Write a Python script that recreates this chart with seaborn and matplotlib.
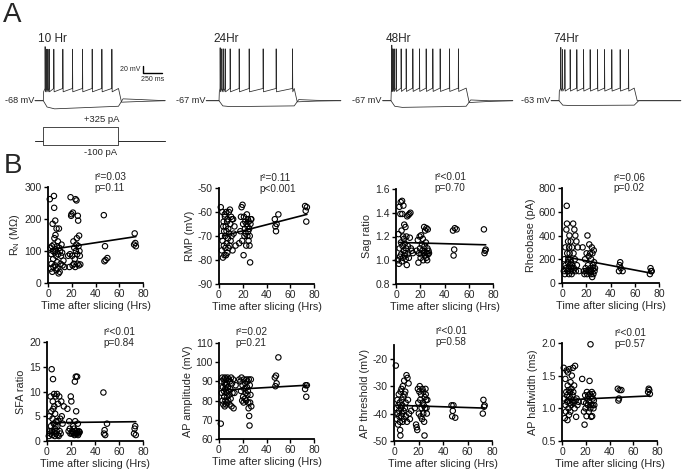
#%%
# time-after-slicing figure: A = example traces, B = property vs. time scatter
import numpy as np
import pandas as pd
import seaborn as sns
import matplotlib
matplotlib.use('Agg')
import matplotlib.pyplot as plt

#%%
# panel B data: one value per cell, same cells in every panel
hours = [1.5, 2.0, 2.4, 2.8, 3.0, 3.3, 3.6, 3.9, 4.1, 4.3, 4.6, 4.8, 5.0, 5.2, 5.4, 5.7, 5.9,
         6.1, 6.3, 6.5, 6.8, 7.0, 7.2, 7.5, 7.8, 8.0, 8.3, 8.6, 8.9, 9.2, 9.5, 9.8, 10.2, 10.6,
         11.0, 11.4, 11.9, 12.3, 13.0, 14.0,
         17.0, 18.0, 18.5, 19.0, 19.5, 19.8, 20.3, 20.7, 21.0, 21.4, 21.8, 22.1, 22.5, 22.9,
         23.2, 23.5, 23.9, 24.0, 24.3, 24.6, 24.9, 25.1, 25.4, 25.7, 25.9, 26.2, 26.5, 26.8, 27.2,
         47.0, 47.5, 48.0, 48.5, 50.0, 72.5, 73.0, 73.5, 74.0]

rn = [262, 110, 45, 90, 60, 115, 35, 185, 100, 75, 50, 120, 272, 235, 140, 95, 55,
      195, 150, 105, 85, 40, 170, 115, 65, 45, 130, 90, 30, 170, 110, 35, 100, 60,
      85, 120, 95, 55, 70, 50,
      85, 50, 90, 268, 210, 215, 85, 55, 220, 130, 60, 110, 75, 50,
      262, 100, 120, 258, 140, 90, 60, 210, 195, 115, 55, 148, 100, 85, 58,
      212, 68, 115, 72, 78, 120, 155, 125, 115]

rmp = [-58, -70, -76, -60, -72, -79, -66, -64, -74, -68, -78, -61, -62, -70, -75, -66, -78,
       -60, -68, -73, -64, -77, -63, -71, -67, -75, -60, -69, -74, -59, -65, -72, -62, -70,
       -63, -76, -63, -69, -66, -74,
       -73, -68, -62, -58, -72, -57, -65, -78, -62, -70, -67, -64, -69, -74,
       -65, -61, -70, -66, -63, -68, -72, -64, -67, -74, -70, -81, -65, -63, -63,
       -63, -66, -68, -65, -61, -57.5, -59.5, -64, -58]

sag = [1.00, 1.22, 0.97, 1.45, 1.10, 1.03, 1.39, 1.49, 1.15, 1.05, 1.25, 0.99, 1.50, 1.39, 1.12, 1.02, 1.20,
       1.46, 1.08, 1.18, 1.30, 1.04, 1.14, 1.06, 1.28, 1.01, 1.10, 1.20, 0.96, 1.37, 1.05, 1.12, 1.38, 1.02,
       1.39, 1.19, 1.40, 1.10, 1.08, 1.06,
       1.08, 1.17, 0.98, 1.06, 1.20, 1.10, 1.02, 1.21, 1.05, 1.13, 1.08, 1.18, 1.00, 1.06,
       1.28, 1.12, 1.04, 1.25, 1.07, 1.15, 1.02, 1.27, 1.06, 1.00, 1.10, 1.26, 1.05, 1.08, 1.06,
       1.25, 1.04, 1.09, 1.27, 1.26, 1.26, 1.06, 1.08, 1.09]

rheobase = [100, 200, 75, 300, 150, 125, 450, 650, 500, 250, 100, 175, 350, 200, 125, 75, 300,
            400, 250, 150, 100, 200, 350, 175, 125, 75, 300, 150, 100, 500, 250, 125, 450, 200,
            400, 100, 350, 150, 300, 100,
            300, 100, 75, 200, 125, 100, 250, 75, 400, 150, 100, 225, 325, 100,
            250, 125, 75, 200, 100, 300, 50, 250, 150, 125, 75, 275, 175, 100, 125,
            100, 150, 175, 125, 100, 75, 125, 100, 100]

sfa = [1.0, 5.0, 2.0, 1.5, 9.0, 3.0, 6.0, 14.5, 2.0, 1.2, 4.5, 8.0, 12.5, 6.5, 1.8, 3.5, 9.5,
       7.0, 2.5, 1.0, 5.5, 3.0, 9.0, 1.5, 4.0, 2.0, 9.5, 3.0, 1.2, 7.5, 4.0, 1.0, 9.0, 2.0,
       4.5, 1.5, 8.0, 5.0, 3.5, 7.0,
       6.5, 2.0, 4.0, 2.5, 1.5, 9.0, 8.0, 1.5, 2.0, 1.8, 3.0, 1.5, 2.5, 1.2,
       12.0, 4.0, 1.5, 13.0, 6.0, 2.0, 1.5, 13.0, 1.8, 3.5, 1.2, 1.5, 2.0, 1.8, 1.8,
       9.8, 1.5, 2.2, 1.2, 3.5, 1.5, 2.5, 3.0, 1.2]

ap_amp = [68, 90, 84, 92, 80, 87, 78, 91, 85, 82, 89, 77, 92, 86, 80, 88, 78,
          91, 84, 79, 89, 82, 92, 87, 80, 85, 91, 83, 78, 90, 86, 81, 92, 77,
          89, 84, 91, 76, 84, 88,
          91, 90, 85, 92, 80, 88, 82, 79, 91, 86, 81, 89, 84, 80,
          91, 87, 83, 90, 85, 79, 76, 91, 72, 67, 88, 79, 83, 91, 77,
          92, 87.5, 93, 89, 102.5, 86, 88, 82, 88]

ap_thr = [-22.5, -38, -42, -35, -40, -44, -37, -33, -39, -41, -36, -43, -46, -48, -32, -38, -41,
          -31, -35, -40, -37, -43, -30, -34, -39, -42, -28, -33, -38, -32, -36, -41, -26, -43,
          -27, -35, -29, -40, -42, -39,
          -38, -44, -45, -46, -31, -36, -40, -32, -30, -35, -41, -33, -38, -42,
          -31, -36, -40, -32, -37, -43, -48, -34, -38, -31, -33, -35, -38, -40, -35,
          -37, -41, -39, -37, -41.5, -40, -35, -37.5, -37]

ap_hw = [1.62, 1.15, 0.85, 1.45, 1.05, 0.95, 1.25, 1.58, 1.20, 1.10, 0.82, 1.35, 1.55, 1.12, 1.00, 1.28, 0.90,
         1.60, 1.18, 1.08, 1.25, 0.95, 1.40, 1.15, 1.05, 1.30, 1.50, 1.10, 1.20, 1.62, 1.25, 1.08, 1.35, 1.00,
         1.65, 1.12, 0.87, 1.15, 1.05, 1.10,
         1.45, 1.10, 0.95, 0.75, 1.20, 1.00, 1.08, 0.88, 1.25, 1.15, 1.05, 1.20, 0.95, 1.10,
         1.42, 1.22, 1.00, 1.98, 1.05, 0.87, 1.18, 1.25, 0.88, 1.05, 1.15, 1.22, 1.00, 1.12, 1.05,
         1.30, 1.12, 1.15, 1.28, 1.28, 1.25, 1.30, 1.28, 1.22]

# regression lines
fit_x = [3, 74]
fit_rn = [105, 145]
fit_rmp = [-70, -61]
fit_sag = [1.15, 1.13]
fit_rheobase = [220, 82]
fit_sfa = [3.7, 3.9]
fit_ap_amp = [85.5, 88]
fit_ap_thr = [-37, -38]
fit_ap_hw = [1.13, 1.19]

stats_r2 = ['r²=0.03', 'r²=0.11', 'r²<0.01', 'r²=0.06', 'r²<0.01', 'r²=0.02', 'r²<0.01', 'r²<0.01']
stats_p = ['p=0.11', 'p<0.001', 'p=0.70', 'p=0.02', 'p=0.84', 'p=0.21', 'p=0.58', 'p=0.57']

ylabels = ['R$_\\mathregular{N}$ (MΩ)', 'RMP (mV)', 'Sag ratio', 'Rheobase (pA)',
           'SFA ratio', 'AP amplitude (mV)', 'AP threshold (mV)', 'AP halfwidth (ms)']

#%%
# panel A data: example traces (ms from step onset, mV from rest)
trace_labels = ['10 Hr', '24Hr', '48Hr', '74Hr']
rest_mv = [-68, -67, -67, -63]
spike_times = [
    [22, 40, 58, 76, 138, 258, 386, 519, 648, 777, 910],
    [13, 36, 58, 80, 146, 266, 399, 585, 758, 975],
    [9, 23, 40, 67, 133, 200, 289, 377, 466, 555, 652, 776, 895],
    [22, 44, 76, 146, 235, 324, 412, 510, 603, 700, 811, 922],
]
first_peak = [146, 143, 150, 144]
spike_peak = [139, 140, 140, 138]
ahp_level = [24, 24, 25, 26]
prespike_level = [33, 33, 34, 34]
depol_post_t = [1040, 1300, 1620]
depol_post_v = [[-4, -2, 0], [-3, -1, 0], [-5, -2, 0], [0, 0, 0]]
hyper_t = [0, 50, 150, 1000, 1060, 1300, 1620]
hyper_v = [[0, -17, -22, -15, 5, 3, 0],
           [0, -14, -16, -14, 3, 1, 0],
           [0, -15, -18, -15, 2, 0, 0],
           [0, -12, -13, -12, 0, 0, 0]]
trace_start = [-110, -170, -110, -105]
step_ms = 1000
step_t = [-110, 0, 0, 1000, 1000, 1620]
step_pos = [0, 0, 325, 325, 0, 0]
step_neg = [0, 0, -100, -100, 0, 0]

# layout of panel A (ms along the shared time axis)
trace_onset = [576, 2913, 5200, 7435]
scalebar_ms = 250
scalebar_mv = 20

#%%
sns.set_style('ticks')
plt.rcParams['font.family'] = ['Liberation Sans', 'DejaVu Sans']
plt.rcParams['axes.unicode_minus'] = False
plt.rcParams['mathtext.fontset'] = 'custom'
plt.rcParams['mathtext.rm'] = 'Liberation Sans'

W, H = 685, 474
fig = plt.figure(figsize=(W / 100, H / 100), dpi=100)


def px_axes(x0, y0, x1, y1):
    return fig.add_axes([x0 / W, 1 - y1 / H, (x1 - x0) / W, (y1 - y0) / H])


# ---- panel A ----
trace_col = '#2a2a2a'
ax_v = px_axes(0, 30, 685, 115)
ax_v.set_xlim(0, 685 * 13.3)
ax_v.set_ylim(-38.6, 190.9)
ax_v.axis('off')

for i in range(4):
    on = trace_onset[i]
    t = [trace_start[i], 0, 4]
    v = [0, 0, ahp_level[i]]
    for k, ts in enumerate(spike_times[i]):
        t += [ts, ts + 2, ts + 6]
        v += [prespike_level[i], first_peak[i] if k == 0 else spike_peak[i], ahp_level[i]]
    t += [step_ms] + depol_post_t
    v += [prespike_level[i]] + depol_post_v[i]
    ax_v.plot(np.array(t) + on, v, color=trace_col, lw=0.55)
    ax_v.plot(np.array([trace_start[i]] + hyper_t) + on, [0] + hyper_v[i], color=trace_col, lw=0.55)
    ax_v.text(on + trace_start[i] - 15, 0, f'{rest_mv[i]} mV', ha='right', va='center', fontsize=6.6)
    ax_v.text(on - 70, 167, trace_labels[i], ha='left', va='center', fontsize=8.5)

# scale bar
sb_x, sb_y = trace_onset[0] + 1326, 74
ax_v.plot([sb_x, sb_x, sb_x + scalebar_ms], [sb_y + scalebar_mv, sb_y, sb_y], color='black', lw=1.0)
ax_v.text(sb_x - 40, sb_y + 9, f'{scalebar_mv} mV', ha='right', va='center', fontsize=5)
ax_v.text(sb_x + scalebar_ms / 2, sb_y - 16, f'{scalebar_ms} ms', ha='center', va='center', fontsize=5)

ax_i = px_axes(0, 115, 685, 160)
ax_i.set_xlim(0, 685 * 13.3)
ax_i.set_ylim(-463, 617)
ax_i.axis('off')
ax_i.plot(np.array(step_t) + trace_onset[0], step_pos, color=trace_col, lw=0.6)
ax_i.plot(np.array(step_t) + trace_onset[0], step_neg, color=trace_col, lw=0.6)
ax_i.text(trace_onset[0] + 780, 497, '+325 pA', ha='center', va='center', fontsize=6.8)
ax_i.text(trace_onset[0] + 760, -288, '-100 pA', ha='center', va='center', fontsize=6.8)

fig.text(3 / W, 1 - 2 / H, 'A', fontsize=20, va='top', ha='left')
fig.text(4 / W, 1 - 153 / H, 'B', fontsize=20, va='top', ha='left')

# ---- panel B ----
panel_px = [(48, 187, 143, 283), (219, 188, 314, 284), (396, 189, 493, 284), (562, 188, 659, 283),
            (47, 342, 143, 441), (219, 343, 314, 439), (394, 345, 492, 441), (562, 343, 657, 441)]
values = [rn, rmp, sag, rheobase, sfa, ap_amp, ap_thr, ap_hw]
fits = [fit_rn, fit_rmp, fit_sag, fit_rheobase, fit_sfa, fit_ap_amp, fit_ap_thr, fit_ap_hw]
ylims = [(0, 300), (-90, -50), (0.8, 1.6), (0, 800), (0, 20), (60, 110), (-50, -15), (0.5, 2.0)]
yticks = [[0, 100, 200, 300], [-90, -80, -70, -60, -50], [0.8, 1.0, 1.2, 1.4, 1.6],
          [0, 200, 400, 600, 800], [0, 5, 10, 15, 20], [60, 70, 80, 90, 100, 110],
          [-50, -40, -30, -20], [0.5, 1.0, 1.5, 2.0]]
stat_pos = [(0.49, 1.10), (0.43, 1.10), (0.40, 1.13), (0.53, 1.11),
            (0.59, 1.10), (0.17, 1.11), (0.42, 1.15), (0.55, 1.10)]

for i in range(8):
    ax = px_axes(*panel_px[i])
    df = pd.DataFrame({'hours': hours, 'value': values[i]})
    sns.scatterplot(data=df, x='hours', y='value', ax=ax, marker='o', s=15,
                    facecolor='none', edgecolor='black', linewidth=0.8, clip_on=False, zorder=3)
    sns.lineplot(x=fit_x, y=fits[i], ax=ax, color='black', lw=1.2, zorder=4)
    ax.set_xlim(0, 80)
    ax.set_ylim(*ylims[i])
    ax.set_xticks([0, 20, 40, 60, 80])
    ax.set_yticks(yticks[i])
    ax.set_xlabel('Time after slicing (Hrs)', fontsize=7.8, labelpad=1)
    ax.set_ylabel(ylabels[i], fontsize=7.8, labelpad=2)
    ax.tick_params(labelsize=7.5, width=1.0, length=3, pad=1.5, color='black')
    sns.despine(ax=ax)
    for sp in ['left', 'bottom']:
        ax.spines[sp].set_linewidth(1.3)
        ax.spines[sp].set_color('black')
    ax.text(stat_pos[i][0], stat_pos[i][1], stats_r2[i], transform=ax.transAxes,
            fontsize=7.2, ha='left', va='center')
    ax.text(stat_pos[i][0], stat_pos[i][1] - 0.115, stats_p[i], transform=ax.transAxes,
            fontsize=7.2, ha='left', va='center')

fig.savefig('out.png', dpi=100)
